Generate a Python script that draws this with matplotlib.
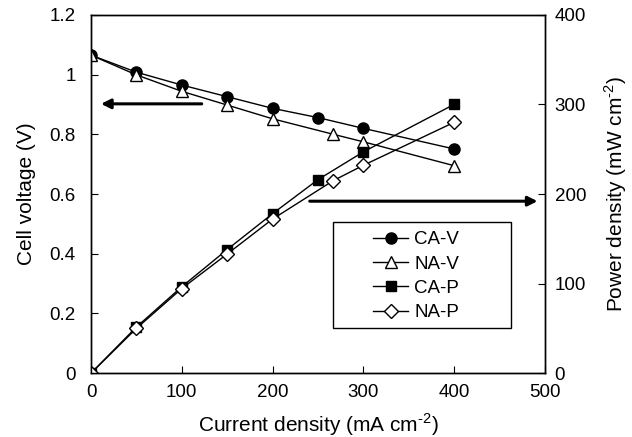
import matplotlib
matplotlib.use("Agg")
import matplotlib.pyplot as plt
from matplotlib.patches import Rectangle

plt.rcParams['font.family'] = ['Liberation Sans', 'DejaVu Sans']
plt.rcParams['mathtext.fontset'] = 'custom'
plt.rcParams['mathtext.rm'] = 'Liberation Sans'

# data
ca_x = [0, 50, 100, 150, 200, 250, 300, 400]
na_x = [0, 50, 100, 150, 200, 267, 300, 400]
ca_v = [1.065, 1.008, 0.965, 0.926, 0.887, 0.856, 0.820, 0.751]
na_v = [1.065, 0.999, 0.944, 0.898, 0.852, 0.800, 0.775, 0.695]
ca_p = [0, 51.5, 96.5, 138, 178, 216, 247, 300]
na_p = [0, 50, 94.5, 133, 172, 215, 232, 280]

fig = plt.figure(figsize=(6.32, 4.37), dpi=100)
ax = fig.add_axes([0.144, 0.146, 0.718, 0.820])
ax2 = ax.twinx()

l1, = ax.plot(ca_x, ca_v, '-o', color='black', lw=1, ms=8,
              mfc='black', mec='black', label='CA-V')
l2, = ax.plot(na_x, na_v, '-^', color='black', lw=1, ms=8.5,
              mfc='white', mec='black', label='NA-V')
l3, = ax2.plot(ca_x, ca_p, '-s', color='black', lw=1, ms=7.5,
               mfc='black', mec='black', label='CA-P')
l4, = ax2.plot(na_x, na_p, '-D', color='black', lw=1, ms=7,
               mfc='white', mec='black', label='NA-P')

ax.set_xlim(0, 500)
ax.set_ylim(0, 1.2)
ax2.set_ylim(0, 400)
ax.set_xticks([0, 100, 200, 300, 400, 500])
ax.set_yticks([0, 0.2, 0.4, 0.6, 0.8, 1.0, 1.2])
ax.set_yticklabels(['0', '0.2', '0.4', '0.6', '0.8', '1', '1.2'])
ax2.set_yticks([0, 100, 200, 300, 400])

ax.tick_params(axis='x', direction='in', length=5, labelsize=13.5, pad=8)
ax.tick_params(axis='y', direction='in', length=5, labelsize=13.5, pad=11)
ax2.tick_params(axis='y', direction='in', length=5, labelsize=13.5, pad=7)
for a in (ax, ax2):
    for s in a.spines.values():
        s.set_linewidth(1)

ax.set_xlabel(r'Current density (mA cm$^{\text{-2}}$)', fontsize=15, labelpad=7)
ax.set_ylabel('Cell voltage (V)', fontsize=15, labelpad=10)
ax2.set_ylabel(r'Power density (mW cm$^{\text{-2}}$)', fontsize=15, labelpad=12)

# arrows pointing to the matching axis
ax.annotate('', xy=(11, 0.902), xytext=(122, 0.902),
            arrowprops=dict(arrowstyle='-|>', color='black', lw=2.2,
                            mutation_scale=14, shrinkA=0, shrinkB=0))
ax2.annotate('', xy=(492, 192), xytext=(241, 192),
             arrowprops=dict(arrowstyle='-|>', color='black', lw=2.2,
                             mutation_scale=14, shrinkA=0, shrinkB=0))

# legend box drawn by hand, it is much wider than its entries
fig.patches.append(Rectangle((0.5274, 0.2501), 0.2807, 0.2426,
                             transform=fig.transFigure, fill=True,
                             facecolor='white', edgecolor='black', lw=1,
                             zorder=4))
leg = fig.legend(handles=[l1, l2, l3, l4], loc='center',
                 bbox_to_anchor=(0.658, 0.368), fontsize=13.5,
                 frameon=False, handlelength=1.9, handletextpad=0.3,
                 labelspacing=0.38, borderpad=0, borderaxespad=0)
leg.set_zorder(5)

fig.savefig('out.png', dpi=100)
